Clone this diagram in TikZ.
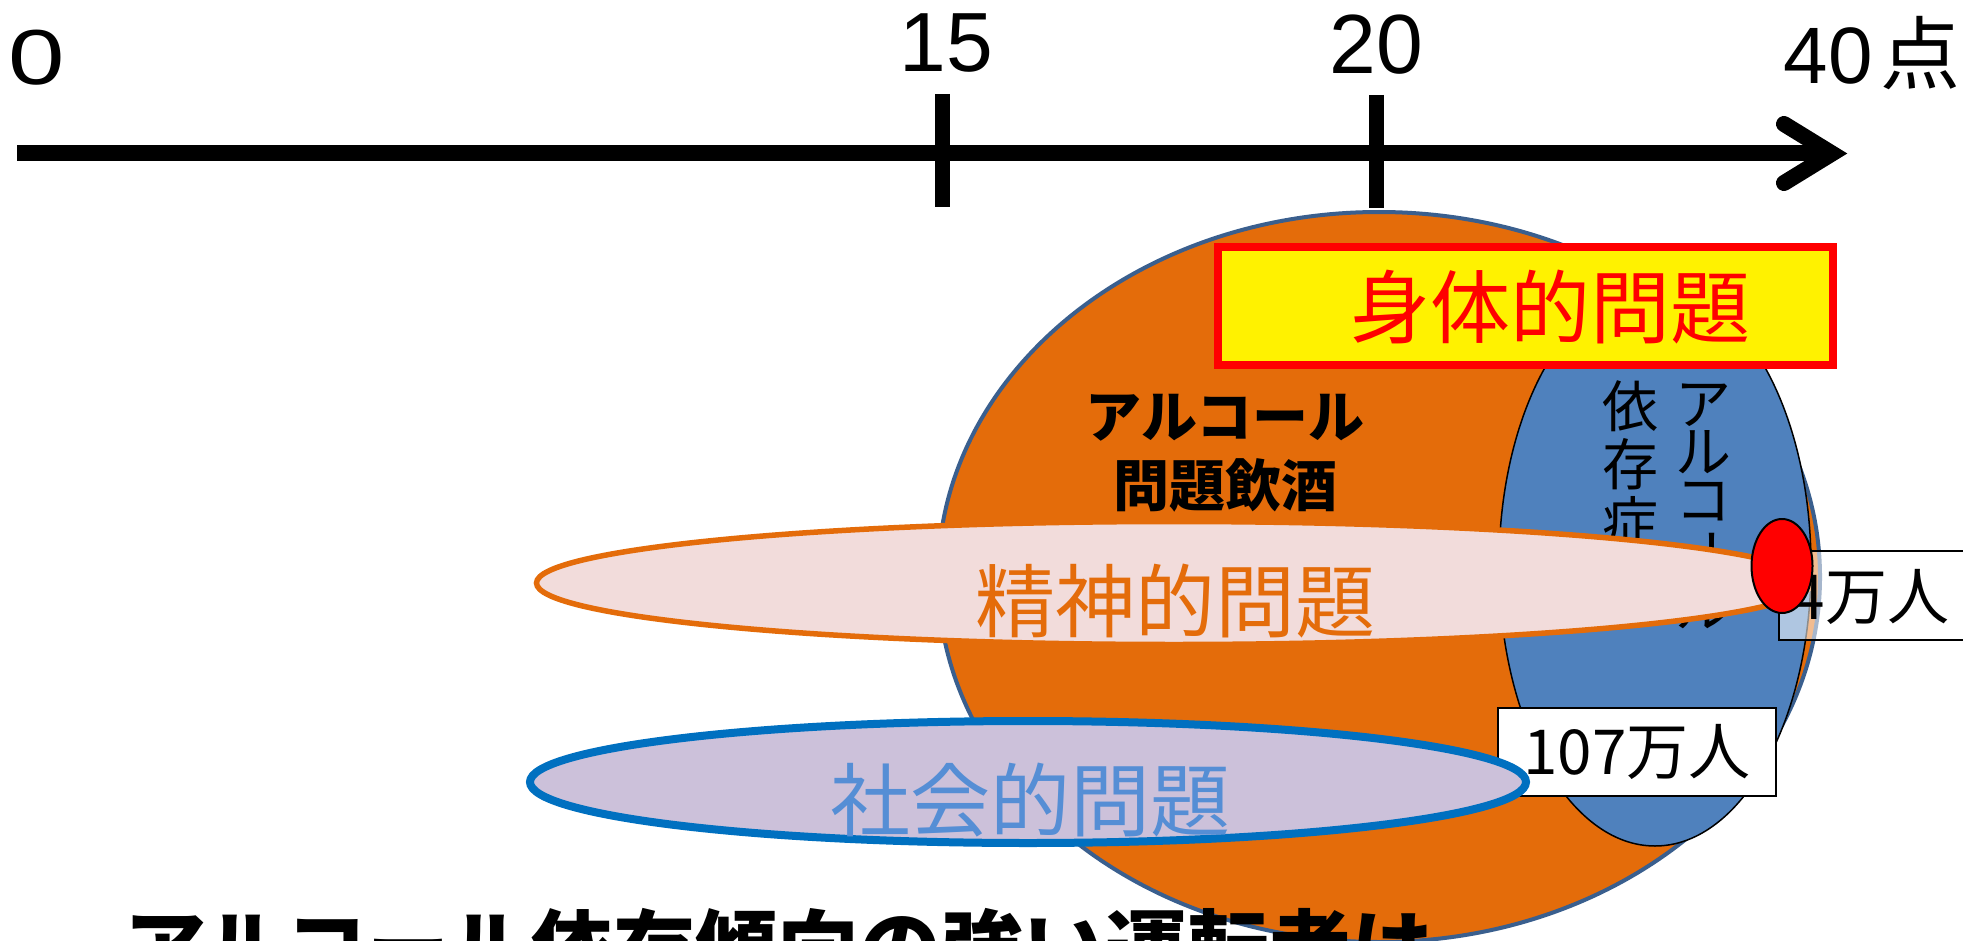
\documentclass[tikz,border=0pt]{standalone}
\usepackage{fontspec}
\usepackage{graphicx}
\setmainfont{Liberation Sans}
\newfontfamily\jp{Noto Sans CJK JP}
\usetikzlibrary{shapes.geometric}
\definecolor{orfill}{HTML}{E46C0A}
\definecolor{orline}{HTML}{3A5F8E}
\definecolor{blfill}{HTML}{4F81BD}
\definecolor{pinkfill}{HTML}{F2DCDB}
\definecolor{lavfill}{HTML}{CCC1DA}
\definecolor{lavline}{HTML}{0070C0}
\definecolor{soctext}{HTML}{558ED5}
\definecolor{mentext}{HTML}{E46C0A}
\begin{document}
\begin{tikzpicture}[x=0.5pt,y=-0.5pt,
  axisline/.style={line width=8pt},
  tickline/.style={line width=7.5pt},
  axlabel/.style={inner sep=0pt,font=\fontsize{42}{48}\selectfont},
  oval/.style={ellipse,inner sep=0pt},
  lbl/.style={inner sep=0pt,align=center},
  numbox/.style={rectangle,draw=black,line width=1pt,inner sep=0pt}
]
\useasboundingbox (0,0) rectangle (1963,941);
\clip (0,0) rectangle (1963,941);
\fill[white] (0,0) rectangle (1963,941);

% axis
\coordinate (axs) at (17,153.5);
\coordinate (axe) at (1830,153.5);
\coordinate (ah1) at (1784,124);
\coordinate (ahtip) at (1832,153.5);
\coordinate (ah2) at (1784,183);
\draw[axisline] (axs) -- (axe);
\draw[axisline,line cap=round,miter limit=10] (ah1) -- (ahtip) -- (ah2);
\coordinate (t15a) at (942,94);
\coordinate (t15b) at (942,207);
\coordinate (t20a) at (1376,95);
\coordinate (t20b) at (1376,208);
\draw[tickline] (t15a) -- (t15b);
\draw[tickline] (t20a) -- (t20b);
\node[axlabel] (l0) at (37,58) {\fontsize{39}{44}\selectfont\scalebox{1.3}[1]{0}};
\node[axlabel] (l15) at (946,43) {15};
\node[axlabel] (l20) at (1376,45) {20};
\node[axlabel,anchor=east] (l40) at (1961,53) {\fontsize{40}{46}\selectfont 40\hspace{4pt}{\jp 点}};

% big orange ellipse
\node[oval,fill=orfill,draw=orline,line width=2pt,minimum width=441pt,minimum height=365pt] (drink) at (1379,577) {};
% blue ellipse
\node[oval,fill=blfill,draw=black,line width=0.75pt,minimum width=156pt,minimum height=280pt] (dep) at (1655,566) {};
% vertical text
\node[lbl,anchor=north,font=\jp\fontsize{28}{24}\selectfont] (depR) at (1703,383)
  {ア\\ル\\コ\\\rotatebox[origin=c]{-90}{ー}\\ル};
\node[lbl,anchor=north,font=\jp\fontsize{28}{29}\selectfont] (depL) at (1630,380)
  {依\\存\\症};
% yellow box
\node[rectangle,fill=yellow,draw=red,line width=4pt,minimum width=307.5pt,minimum height=59pt,inner sep=0pt] (body) at (1525.5,306) {};
\node[lbl,text=red,font=\jp\fontsize{40}{46}\selectfont] (bodyt) at (1550,307) {身体的問題};
% drinking label
\node[lbl,font=\jp\bfseries\fontsize{28}{34.5}\selectfont] (drinkt) at (1225,453.5) {アルコール\\問題飲酒};

% pink ellipse
\node[oval,fill=pinkfill,draw=mentext,line width=2.75pt,minimum width=637.5pt,minimum height=61.5pt] (mental) at (1174,583) {};
\node[lbl,text=mentext,font=\jp\fontsize{40}{46}\selectfont] (mentalt) at (1175,601) {精神的問題};

% 4万人 box
\node[numbox,fill=white,fill opacity=0.55,minimum width=101pt,minimum height=44.5pt] (box4) at (1879.5,595.5) {};
\node[lbl,font=\jp\fontsize{31}{36}\selectfont] (box4t) at (1870,597) {4万人};
% red ellipse
\node[oval,fill=red,draw=black,line width=1pt,minimum width=30.5pt,minimum height=47pt] (core) at (1782,566) {};

% 107万人 box
\node[numbox,fill=white,minimum width=139pt,minimum height=44pt,font=\jp\fontsize{31}{36}\selectfont] (box107) at (1637,752) {107万人};

% lavender ellipse
\node[oval,fill=lavfill,draw=lavline,line width=4pt,minimum width=498pt,minimum height=61pt] (social) at (1028,782) {};
\node[lbl,text=soctext,font=\jp\fontsize{40}{46}\selectfont] (socialt) at (1030,800) {社会的問題};

% bottom text (cut off)
\node[inner sep=0pt,anchor=base west,font=\jp\bfseries\fontsize{41}{46}\selectfont] (bottomt) at (124,978) {アルコール依存傾向の強い運転者は};
\end{tikzpicture}
\end{document}
